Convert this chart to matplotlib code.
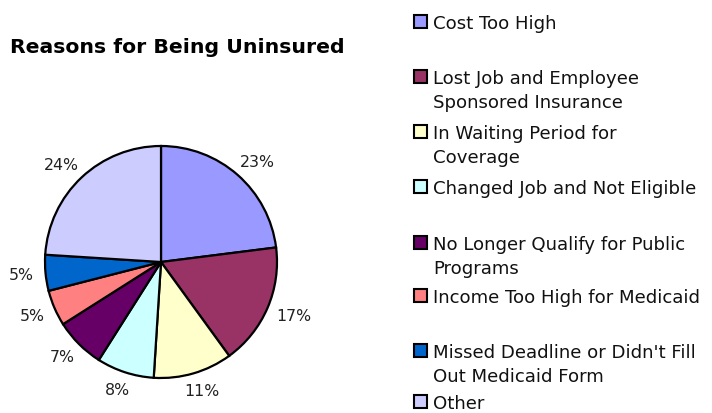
import matplotlib
matplotlib.use("Agg")
import numpy as np
import matplotlib.pyplot as plt
from matplotlib.patches import Rectangle

plt.rcParams["font.family"] = ["DejaVu Sans"]

categories = ["Cost Too High", "Lost Job and Employee\nSponsored Insurance",
              "In Waiting Period for\nCoverage", "Changed Job and Not Eligible",
              "No Longer Qualify for Public\nPrograms", "Income Too High for Medicaid",
              "Missed Deadline or Didn't Fill\nOut Medicaid Form", "Other"]
values = [23, 17, 11, 8, 7, 5, 5, 24]
colors = ["#9999FF", "#993366", "#FFFFCC", "#CCFFFF", "#660066", "#FF8080", "#0066CC", "#CCCCFF"]
# baseline (pixels from top) of first text line of each legend entry
legend_base = [29, 84, 139, 194, 250, 303, 358, 409]

W, H = 712, 414
fig = plt.figure(figsize=(W / 100, H / 100), dpi=100)
fig.patch.set_facecolor("white")

cx, cy, r = 161, 263, 116
ax = fig.add_axes([(cx - r) / W, (H - cy - r) / H, 2 * r / W, 2 * r / H])
wedges, texts, autotexts = ax.pie(
    values, colors=colors, startangle=90, counterclock=False,
    autopct=lambda p: f"{p:.0f}%", pctdistance=1.2,
    wedgeprops=dict(edgecolor="black", linewidth=1.6),
    textprops=dict(fontsize=11.3, color="#222222"))
ax.set_xlim(-1, 1)
ax.set_ylim(-1, 1)
ax.set_aspect("equal")
ax.axis("off")

# place percentage labels just outside the rim, offset by their own box size
fig.canvas.draw()
renderer = fig.canvas.get_renderer()
gap = 0.10
for w, t in zip(wedges, autotexts):
    ang = np.deg2rad((w.theta1 + w.theta2) / 2)
    bb = t.get_window_extent(renderer)
    hw = bb.width / 2 / r
    hh = bb.height / 2 / r * 0.8
    x = (1 + gap) * np.cos(ang) + hw * np.cos(ang)
    y = (1 + gap) * np.sin(ang) + hh * np.sin(ang)
    t.set_position((x, y))
    t.set_ha("center")
    t.set_va("center")
    t.set_clip_on(False)

fig.text(10 / W, 1 - 53 / H, "Reasons for Being Uninsured", fontsize=14.7,
         fontweight="bold", va="baseline", ha="left")

for lab, col, yb in zip(categories, colors, legend_base):
    s = 13
    fig.patches.append(Rectangle((414 / W, 1 - (yb - 6.5 + s / 2) / H), s / W, s / H,
                                 transform=fig.transFigure, facecolor=col,
                                 edgecolor="black", linewidth=1.5))
    n = lab.count("\n")
    fig.text(433 / W, 1 - (yb + 24 * n) / H, lab, fontsize=13.1, va="baseline",
             ha="left", linespacing=1.4, color="#111111")

fig.savefig("out.png", dpi=100)
